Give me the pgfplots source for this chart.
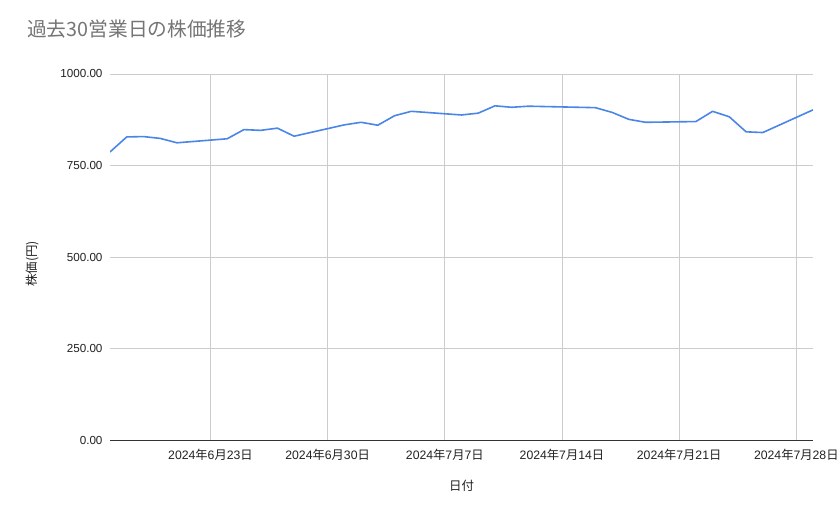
\documentclass[border=0pt]{standalone}
\usepackage{fontspec}
\setmainfont{Liberation Sans}
\newfontfamily\cjk{Noto Sans CJK JP}
\usepackage{pgfplots}
\pgfplotsset{compat=1.18}
\definecolor{titlegrey}{HTML}{757575}
\definecolor{gridgrey}{HTML}{CCCCCC}
\definecolor{series}{HTML}{4A86E8}
\definecolor{labelc}{HTML}{222222}
\newcommand{\dt}[2]{2024{\cjk 年}#1{\cjk 月}#2{\cjk 日}}
\begin{document}
\begin{tikzpicture}[x=1bp,y=1bp]
\useasboundingbox[fill=white] (0,0) rectangle (839,519);
\node[anchor=west, text=titlegrey, font=\cjk\fontsize{19.8}{22}\selectfont, inner sep=0pt] at (27,490) {過去30営業日の株価推移};
\begin{axis}[
  at={(110bp,79bp)}, anchor=south west,
  scale only axis, width=703bp, height=366bp,
  xmin=-6, xmax=36, ymin=0, ymax=1000,
  axis line style={draw=none},
  major tick length=0pt,
  xtick={0,7,14,21,28,35},
  xticklabels={\dt{6}{23},\dt{6}{30},\dt{7}{7},\dt{7}{14},\dt{7}{21},\dt{7}{28}},
  ytick={250,500,750,1000},
  extra y ticks={0},
  extra y tick style={major grid style={draw=black!80, line width=0.9bp}},
  grid=major,
  major grid style={draw=gridgrey, line width=0.8bp},
  /pgf/number format/assume math mode=true,
  yticklabel={\pgfmathprintnumber[fixed, fixed zerofill, precision=2, 1000 sep={}]{\tick}},
  yticklabel style={font=\fontsize{11.7}{13}\selectfont, text=labelc, xshift=-4bp},
  xticklabel style={font=\fontsize{12.3}{14}\selectfont, text=labelc, yshift=-6bp},
  xlabel={\fontsize{12.5}{14}\selectfont\cjk 日付},
  ylabel={\fontsize{12.5}{14}\selectfont\cjk 株価(円)},
  every axis x label/.style={at={(axis description cs:0.5,0)}, yshift=-46bp, anchor=center, text=labelc},
  every axis y label/.style={at={(axis description cs:0,0.481)}, xshift=-78bp, rotate=90, anchor=center, text=labelc},
]
\addplot[series, line width=1.6bp, line join=round] coordinates {
(-6,787) (-5,828) (-4,829) (-3,824) (-2,812)
(1,823) (2,848) (3,846) (4,852) (5,830)
(8,861) (9,868) (10,860) (11,886) (12,898)
(15,888) (16,893) (17,913) (18,909) (19,912)
(23,908) (24,895) (25,876) (26,868)
(29,870) (30,898) (31,883) (32,842) (33,840)
(36,902)
};
\end{axis}
\end{tikzpicture}
\end{document}
